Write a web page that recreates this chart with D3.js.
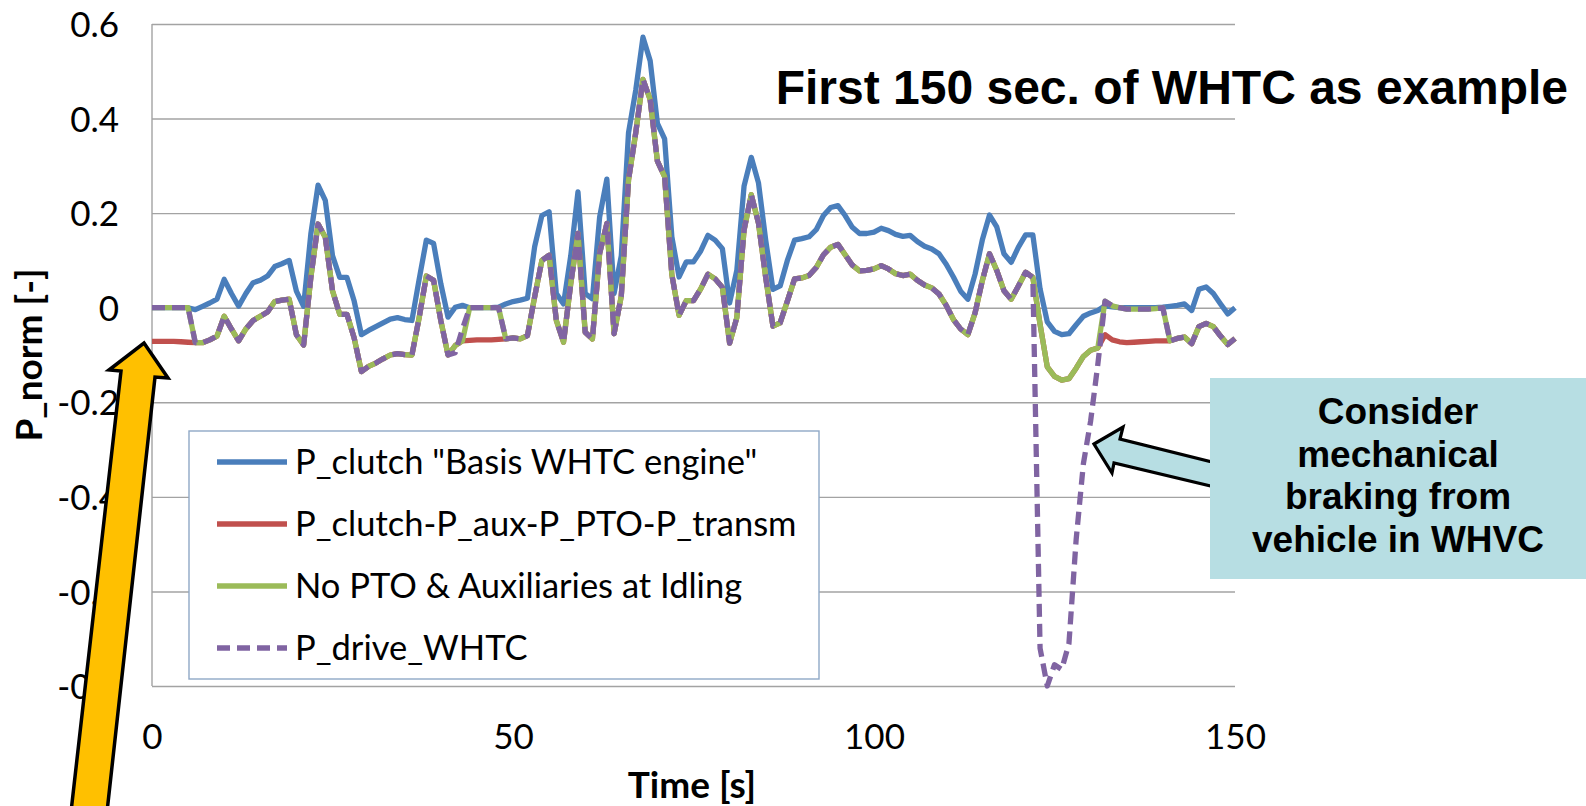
<!DOCTYPE html>
<html>
<head>
<meta charset="utf-8">
<script src="https://cdn.jsdelivr.net/npm/d3@7"></script>
<style>
  html, body { margin: 0; padding: 0; background: #ffffff; }
  svg { display: block; }
</style>
</head>
<body>
<svg id="chart" width="1586" height="806"></svg>
<script>
// Normalised power over the first 150 s of the WHTC, 1 Hz samples.
const timeSec = d3.range(0, 151);

const pClutch = [
  0, 0, 0, 0, 0, 0, -0.004, 0.003, 0.01, 0.018,
  0.06, 0.03, 0.003, 0.03, 0.053, 0.058, 0.067, 0.087, 0.093, 0.1,
  0.035, 0.003, 0.156, 0.259, 0.227, 0.11, 0.064, 0.064, 0.014, -0.057,
  -0.048, -0.04, -0.032, -0.024, -0.021, -0.025, -0.027, 0.06, 0.143, 0.136,
  0.051, -0.02, 0.001, 0.005, 0, 0, 0, 0, 0.001, 0.008,
  0.013, 0.016, 0.02, 0.129, 0.195, 0.203, 0.03, 0.008, 0.11, 0.245,
  0.03, 0.019, 0.192, 0.272, 0.03, 0.11, 0.37, 0.46, 0.572, 0.522,
  0.39, 0.357, 0.15, 0.065, 0.097, 0.097, 0.12, 0.153, 0.143, 0.125,
  0.01, 0.079, 0.257, 0.318, 0.264, 0.143, 0.039, 0.046, 0.1, 0.143,
  0.146, 0.15, 0.165, 0.195, 0.212, 0.216, 0.195, 0.17, 0.157, 0.157,
  0.16, 0.168, 0.163, 0.155, 0.151, 0.153, 0.14, 0.13, 0.124, 0.114,
  0.092, 0.065, 0.035, 0.018, 0.071, 0.143, 0.196, 0.171, 0.114, 0.096,
  0.128, 0.154, 0.154, 0.04, -0.03, -0.05, -0.057, -0.055, -0.036, -0.018,
  -0.011, -0.006, 0.004, 0.002, 0, 0, 0, 0, 0, 0,
  0.001, 0.003, 0.005, 0.008, -0.006, 0.039, 0.044, 0.03, 0.008, -0.013, 0
];

const pClutchNet = [
  -0.071, -0.071, -0.071, -0.071, -0.072, -0.073, -0.074, -0.074, -0.068, -0.06,
  -0.018, -0.045, -0.07, -0.045, -0.027, -0.018, -0.009, 0.013, 0.016, 0.018,
  -0.057, -0.079, 0.064, 0.177, 0.149, 0.036, -0.014, -0.014, -0.064, -0.135,
  -0.124, -0.117, -0.108, -0.1, -0.097, -0.099, -0.1, -0.021, 0.067, 0.058,
  -0.027, -0.1, -0.08, -0.07, -0.069, -0.068, -0.068, -0.068, -0.067, -0.066,
  -0.064, -0.066, -0.059, 0.023, 0.1, 0.111, -0.027, -0.073, 0.051, 0.157,
  -0.052, -0.066, 0.115, 0.178, -0.055, 0.025, 0.27, 0.37, 0.483, 0.44,
  0.31, 0.277, 0.07, -0.016, 0.015, 0.015, 0.04, 0.071, 0.061, 0.043,
  -0.075, -0.021, 0.164, 0.239, 0.179, 0.064, -0.039, -0.032, 0.014, 0.061,
  0.063, 0.068, 0.085, 0.112, 0.128, 0.134, 0.112, 0.09, 0.078, 0.079,
  0.082, 0.089, 0.082, 0.072, 0.068, 0.071, 0.058, 0.048, 0.042, 0.029,
  0.005, -0.025, -0.045, -0.057, -0.011, 0.057, 0.114, 0.079, 0.036, 0.018,
  0.046, 0.075, 0.064, -0.035, -0.125, -0.145, -0.153, -0.15, -0.128, -0.103,
  -0.09, -0.085, -0.057, -0.068, -0.072, -0.074, -0.073, -0.072, -0.071, -0.07,
  -0.07, -0.07, -0.065, -0.062, -0.076, -0.04, -0.033, -0.04, -0.06, -0.078, -0.065
];

const pNoPtoIdle = [
  0, 0, 0, 0, 0, 0, -0.074, -0.074, -0.068, -0.06,
  -0.018, -0.045, -0.07, -0.045, -0.027, -0.018, -0.009, 0.013, 0.016, 0.018,
  -0.057, -0.079, 0.064, 0.177, 0.149, 0.036, -0.014, -0.014, -0.064, -0.135,
  -0.124, -0.117, -0.108, -0.1, -0.097, -0.099, -0.1, -0.021, 0.067, 0.058,
  -0.027, -0.1, -0.08, -0.07, 0, 0, 0, 0, 0, -0.066,
  -0.064, -0.066, -0.059, 0.023, 0.1, 0.111, -0.027, -0.073, 0.051, 0.157,
  -0.052, -0.066, 0.115, 0.178, -0.055, 0.025, 0.27, 0.37, 0.483, 0.44,
  0.31, 0.277, 0.07, -0.016, 0.015, 0.015, 0.04, 0.071, 0.061, 0.043,
  -0.075, -0.021, 0.164, 0.239, 0.179, 0.064, -0.039, -0.032, 0.014, 0.061,
  0.063, 0.068, 0.085, 0.112, 0.128, 0.134, 0.112, 0.09, 0.078, 0.079,
  0.082, 0.089, 0.082, 0.072, 0.068, 0.071, 0.058, 0.048, 0.042, 0.029,
  0.005, -0.025, -0.045, -0.057, -0.011, 0.057, 0.114, 0.079, 0.036, 0.018,
  0.046, 0.075, 0.064, -0.035, -0.125, -0.145, -0.153, -0.15, -0.128, -0.103,
  -0.09, -0.085, 0.014, 0.004, 0, -0.003, -0.003, -0.003, -0.003, -0.002,
  0, -0.07, -0.065, -0.062, -0.076, -0.04, -0.033, -0.04, -0.06, -0.078, -0.065
];

const pDrive = [
  0, 0, 0, 0, 0, 0, -0.074, -0.074, -0.068, -0.06,
  -0.018, -0.045, -0.07, -0.045, -0.027, -0.018, -0.009, 0.013, 0.016, 0.018,
  -0.057, -0.079, 0.064, 0.177, 0.149, 0.036, -0.014, -0.014, -0.064, -0.135,
  -0.124, -0.117, -0.108, -0.1, -0.097, -0.099, -0.1, -0.021, 0.067, 0.058,
  -0.027, -0.1, -0.095, -0.045, 0, 0, 0, 0, 0, -0.066,
  -0.064, -0.066, -0.059, 0.023, 0.1, 0.111, -0.027, -0.073, 0.051, 0.157,
  -0.052, -0.066, 0.115, 0.178, -0.055, 0.025, 0.27, 0.37, 0.483, 0.44,
  0.31, 0.277, 0.07, -0.016, 0.015, 0.015, 0.04, 0.071, 0.061, 0.043,
  -0.075, -0.021, 0.164, 0.239, 0.179, 0.064, -0.039, -0.032, 0.014, 0.061,
  0.063, 0.068, 0.085, 0.112, 0.128, 0.134, 0.112, 0.09, 0.078, 0.079,
  0.082, 0.089, 0.082, 0.072, 0.068, 0.071, 0.058, 0.048, 0.042, 0.029,
  0.005, -0.025, -0.045, -0.057, -0.011, 0.057, 0.114, 0.079, 0.036, 0.018,
  0.046, 0.075, 0.064, -0.72, -0.8, -0.755, -0.765, -0.71, -0.49, -0.33,
  -0.24, -0.12, 0.014, 0.004, 0, -0.003, -0.003, -0.003, -0.003, -0.002,
  0, -0.07, -0.065, -0.062, -0.076, -0.04, -0.033, -0.04, -0.06, -0.078, -0.065
];

const seriesNames = [
  'P_clutch "Basis WHTC engine"',
  'P_clutch-P_aux-P_PTO-P_transm',
  'No PTO & Auxiliaries at Idling',
  'P_drive_WHTC'
];
const seriesColors = ["#4a7ebb", "#c0504d", "#9bbb59", "#8064a2"];
const seriesValues = [pClutch, pClutchNet, pNoPtoIdle, pDrive];
const seriesDash = [null, null, null, "13,7"];

const xTicks = [0, 50, 100, 150];
const yTicks = [-0.8, -0.6, -0.4, -0.2, 0, 0.2, 0.4, 0.6];

const titleText = "First 150 sec. of WHTC as example";
const calloutLines = ["Consider", "mechanical", "braking from", "vehicle in WHVC"];

// ---- layout ----
const svg = d3.select("#chart");
const plot = { left: 152, right: 1235, top: 24, bottom: 686 };

const x = d3.scaleLinear().domain([0, 150]).range([plot.left, plot.right]);
const y = d3.scaleLinear().domain([-0.8, 0.6]).range([plot.bottom, plot.top]);

const tickFont = "Lato, 'Open Sans', sans-serif";
const boldFont = "'Liberation Sans', Arial, sans-serif";
const lineWidth = 5.3;

// plain hyphen for negative values
const fmtY = d => d === 0 ? "0" : d3.format(".1f")(d).replace("\u2212", "-");

// horizontal gridlines + y tick labels
const yAxis = d3.axisLeft(y)
  .tickValues(yTicks)
  .tickSize(-(plot.right - plot.left))
  .tickPadding(33)
  .tickFormat(fmtY);

const gy = svg.append("g")
  .attr("transform", `translate(${plot.left},0)`)
  .call(yAxis);
gy.select(".domain").remove();
gy.selectAll(".tick line").attr("stroke", "#a3a3a3").attr("stroke-width", 1.4);
gy.selectAll(".tick text")
  .attr("fill", "#000")
  .style("font-family", tickFont)
  .style("font-size", "35px")
  .attr("dy", "0.36em");

// vertical axis line
svg.append("line")
  .attr("x1", plot.left).attr("x2", plot.left)
  .attr("y1", plot.top).attr("y2", plot.bottom)
  .attr("stroke", "#a3a3a3").attr("stroke-width", 1.4);

// x tick labels
const xAxis = d3.axisBottom(x).tickValues(xTicks).tickSize(0).tickFormat(d3.format("d"));
const gx = svg.append("g")
  .attr("transform", `translate(0,${plot.bottom})`)
  .call(xAxis);
gx.select(".domain").remove();
gx.selectAll(".tick text")
  .attr("fill", "#000")
  .attr("y", 50)
  .attr("dy", "0.36em")
  .style("font-family", tickFont)
  .style("font-size", "35px");

// axis titles
svg.append("text")
  .attr("x", 692).attr("y", 798)
  .attr("text-anchor", "middle")
  .style("font-family", tickFont).style("font-weight", "bold").style("font-size", "37px")
  .text("Time [s]");

svg.append("text")
  .attr("transform", "translate(42,355) rotate(-90)")
  .attr("text-anchor", "middle")
  .style("font-family", tickFont).style("font-weight", "bold").style("font-size", "37px")
  .text("P_norm [-]");

// series lines
const line = d3.line()
  .x((d, i) => x(timeSec[i]))
  .y(d => y(d));

seriesValues.forEach((vals, k) => {
  svg.append("path")
    .datum(vals)
    .attr("d", line)
    .attr("fill", "none")
    .attr("stroke", seriesColors[k])
    .attr("stroke-width", lineWidth)
    .attr("stroke-linejoin", "round")
    .attr("stroke-dasharray", seriesDash[k]);
});

// legend
const legend = svg.append("g");
legend.append("rect")
  .attr("x", 189).attr("y", 431).attr("width", 630).attr("height", 248)
  .attr("fill", "#ffffff").attr("stroke", "#8fa8c6").attr("stroke-width", 1.4);

const rowY = d3.scalePoint().domain(d3.range(seriesNames.length)).range([462, 648]);
seriesNames.forEach((name, k) => {
  legend.append("line")
    .attr("x1", 217).attr("x2", 287)
    .attr("y1", rowY(k)).attr("y2", rowY(k))
    .attr("stroke", seriesColors[k]).attr("stroke-width", lineWidth)
    .attr("stroke-dasharray", seriesDash[k]);
  legend.append("text")
    .attr("x", 295).attr("y", rowY(k)).attr("dy", "0.35em")
    .style("font-family", tickFont).style("font-size", "34.5px")
    .text(name);
});

// callout arrow pointing at the braking dip, then its box
svg.append("path")
  .attr("d", "M1094,444 L1123,427 L1120,439 L1240,469 L1240,493 L1114,463 L1112,473 Z")
  .attr("fill", "#b7dee3").attr("stroke", "#000").attr("stroke-width", 3.2)
  .attr("stroke-linejoin", "miter");

svg.append("rect")
  .attr("x", 1210).attr("y", 378).attr("width", 376).attr("height", 201)
  .attr("fill", "#b7dee3");

const callout = svg.append("text")
  .attr("text-anchor", "middle")
  .style("font-family", boldFont).style("font-weight", "bold").style("font-size", "37px");
calloutLines.forEach((t, i) => {
  callout.append("tspan").attr("x", 1398).attr("y", 424 + i * 42.7).text(t);
});

// title
svg.append("text")
  .attr("x", 1568).attr("y", 104)
  .attr("text-anchor", "end")
  .style("font-family", boldFont).style("font-weight", "bold").style("font-size", "48px")
  .text(titleText);

// yellow pointer arrow at the start of the cycle
svg.append("path")
  .attr("d", "M144,343 L168,378 L155,377 L107,812 L71,812 L121,371 L109,370 Z")
  .attr("fill", "#ffc000").attr("stroke", "#000").attr("stroke-width", 3.5)
  .attr("stroke-linejoin", "miter");
</script>
</body>
</html>
